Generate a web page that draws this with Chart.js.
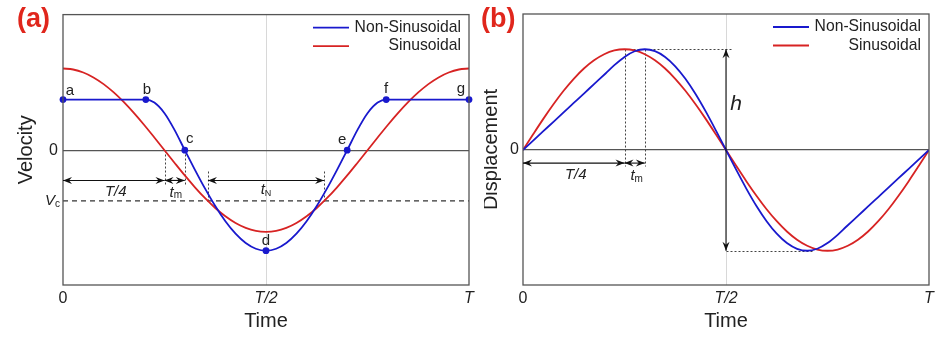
<!DOCTYPE html>
<html>
<head>
<meta charset="utf-8">
<script src="https://cdn.jsdelivr.net/npm/chart.js@4.4.0/dist/chart.umd.min.js"></script>
<style>
    body{margin:0;background:#fff;width:945px;height:342px;position:relative;overflow:hidden}
    #panel-a{position:absolute;left:0;top:0;width:481px;height:342px}
    #panel-b{position:absolute;left:481px;top:0;width:464px;height:342px}
</style>
</head>
<body>
<div id="panel-a"><canvas id="grafico-a"></canvas></div>
<div id="panel-b"><canvas id="grafico-b"></canvas></div>
<script>
// Tiempo como fraccion del periodo T
const tiempoSin = [0, 0.025, 0.05, 0.075, 0.1, 0.125, 0.15, 0.175, 0.2, 0.225,
                   0.25, 0.275, 0.3, 0.325, 0.35, 0.375, 0.4, 0.425, 0.45, 0.475,
                   0.5, 0.525, 0.55, 0.575, 0.6, 0.625, 0.65, 0.675, 0.7, 0.725,
                   0.75, 0.775, 0.8, 0.825, 0.85, 0.875, 0.9, 0.925, 0.95, 0.975, 1];
const tiempoNoSin = [0, 0.025, 0.05, 0.075, 0.1, 0.125, 0.15, 0.175, 0.204, 0.225,
                     0.25, 0.275, 0.3, 0.325, 0.35, 0.375, 0.4, 0.425, 0.45, 0.475,
                     0.5, 0.525, 0.55, 0.575, 0.6, 0.625, 0.65, 0.675, 0.7, 0.725,
                     0.75, 0.775, 0.796, 0.825, 0.85, 0.875, 0.9, 0.925, 0.95, 0.975, 1];

// (a) Velocidad
const velocidadSin = [1, 0.988, 0.951, 0.891, 0.809, 0.707, 0.588, 0.454, 0.309, 0.156,
                      0, -0.156, -0.309, -0.454, -0.588, -0.707, -0.809, -0.891, -0.951, -0.988,
                      -1, -0.988, -0.951, -0.891, -0.809, -0.707, -0.588, -0.454, -0.309, -0.156,
                      0, 0.156, 0.309, 0.454, 0.588, 0.707, 0.809, 0.891, 0.951, 0.988, 1];
const velocidadNoSin = [0.62, 0.62, 0.62, 0.62, 0.62, 0.62, 0.62, 0.62, 0.62, 0.583,
                        0.453, 0.246, 0, -0.24, -0.471, -0.684, -0.87, -1.022, -1.136, -1.206,
                        -1.23, -1.206, -1.136, -1.022, -0.87, -0.684, -0.471, -0.24, 0, 0.246,
                        0.453, 0.583, 0.62, 0.62, 0.62, 0.62, 0.62, 0.62, 0.62, 0.62, 0.62];

// (b) Desplazamiento
const desplazamientoSin = [0, 0.156, 0.309, 0.454, 0.588, 0.707, 0.809, 0.891, 0.951, 0.988,
                           1, 0.988, 0.951, 0.891, 0.809, 0.707, 0.588, 0.454, 0.309, 0.156,
                           0, -0.156, -0.309, -0.454, -0.588, -0.707, -0.809, -0.891, -0.951, -0.988,
                           -1, -0.988, -0.951, -0.891, -0.809, -0.707, -0.588, -0.454, -0.309, -0.156, 0];
const desplazamientoNoSin = [0, 0.093, 0.187, 0.28, 0.374, 0.467, 0.56, 0.654, 0.762, 0.842,
                             0.924, 0.98, 1, 0.981, 0.924, 0.831, 0.707, 0.556, 0.383, 0.195,
                             0, -0.195, -0.383, -0.556, -0.707, -0.831, -0.924, -0.981, -1, -0.98,
                             -0.924, -0.842, -0.762, -0.654, -0.56, -0.467, -0.374, -0.28, -0.187, -0.093, 0];

// Puntos marcados en la curva no sinusoidal de velocidad
const puntosTiempo = [0, 0.204, 0.3, 0.5, 0.7, 0.796, 1];
const puntosVelocidad = [0.62, 0.62, 0, -1.23, 0, 0.62, 0.62];
const puntosNombre = ["a", "b", "c", "d", "e", "f", "g"];

// Ticks
const ticksX = [0, 0.5, 1];
const etiquetasX = ["0", "T/2", "T"];
const series = ["Non-Sinusoidal", "Sinusoidal"];
const Vc = -0.62;

const AZUL = "rgb(25, 25, 205)";
const ROJO = "rgb(215, 35, 35)";
const FUENTE = 'Arial, "Liberation Sans", sans-serif';
Chart.defaults.font.family = FUENTE;

function aPuntos(tiempos, valores){
    return tiempos.map((t, i) => ({x: t, y: valores[i]}));
}

//Texto con partes de distinto tamaño (subindices, cursiva)
function textoCompuesto(ctx, x, y, partes, alinear){
    let ancho = 0;
    partes.forEach(p => {
        ctx.font = (p[2] ? "italic " : "") + p[1] + "px " + FUENTE;
        ancho += ctx.measureText(p[0]).width;
    });
    let x0 = alinear === "right" ? x - ancho : (alinear === "left" ? x : x - ancho / 2);
    ctx.textAlign = "left";
    ctx.textBaseline = "middle";
    partes.forEach(p => {
        ctx.font = (p[2] ? "italic " : "") + p[1] + "px " + FUENTE;
        ctx.fillText(p[0], x0, y + (p[3] || 0));
        x0 += ctx.measureText(p[0]).width;
    });
}

function puntaFlecha(ctx, x, y, ang){
    ctx.beginPath();
    ctx.moveTo(x, y);
    ctx.lineTo(x - 9 * Math.cos(ang) + 3.5 * Math.sin(ang), y - 9 * Math.sin(ang) - 3.5 * Math.cos(ang));
    ctx.lineTo(x - 6 * Math.cos(ang), y - 6 * Math.sin(ang));
    ctx.lineTo(x - 9 * Math.cos(ang) - 3.5 * Math.sin(ang), y - 9 * Math.sin(ang) + 3.5 * Math.cos(ang));
    ctx.closePath();
    ctx.fill();
}

const notas = {
    id: "notas",
    beforeDraw(chart, args, op){
        //Recorte del borde izquierdo (titulo cortado en el original)
        const ctx = chart.ctx;
        ctx.save();
        ctx.beginPath();
        ctx.rect(op.recorte || 0, 0, chart.width, chart.height);
        ctx.clip();
    },
    beforeDatasetsDraw(chart, args, op){
        const {ctx, scales: {x, y}} = chart;
        const px = v => x.getPixelForValue(v), py = v => y.getPixelForValue(v);
        ctx.save();
        //Linea discontinua Vc
        (op.discontinuas || []).forEach(l => {
            ctx.setLineDash([5, 4]);
            ctx.strokeStyle = "#333";
            ctx.lineWidth = 1.1;
            ctx.beginPath();
            ctx.moveTo(px(l[0]), py(l[1]));
            ctx.lineTo(px(l[2]), py(l[3]));
            ctx.stroke();
        });
        //Lineas punteadas
        (op.punteadas || []).forEach(l => {
            ctx.setLineDash([2, 2]);
            ctx.strokeStyle = "#444";
            ctx.lineWidth = 1;
            ctx.beginPath();
            ctx.moveTo(Math.round(px(l[0])) + 0.5, Math.round(py(l[1])) + 0.5);
            ctx.lineTo(Math.round(px(l[2])) + 0.5, Math.round(py(l[3])) + 0.5);
            ctx.stroke();
        });
        ctx.restore();
    },
    afterDatasetsDraw(chart, args, op){
        const {ctx, chartArea: ca, scales: {x, y}} = chart;
        const px = v => x.getPixelForValue(v), py = v => y.getPixelForValue(v);
        ctx.save();
        //Marco
        ctx.strokeStyle = "#555";
        ctx.lineWidth = 1.3;
        ctx.strokeRect(ca.left, ca.top, ca.width, ca.height);

        //Flechas dobles
        ctx.strokeStyle = "#111";
        ctx.fillStyle = "#111";
        ctx.lineWidth = 1.1;
        (op.flechas || []).forEach(f => {
            const x1 = px(f[0]), y1 = py(f[1]), x2 = px(f[2]), y2 = py(f[3]);
            const ang = Math.atan2(y2 - y1, x2 - x1);
            ctx.beginPath();
            ctx.moveTo(x1, y1);
            ctx.lineTo(x2, y2);
            ctx.stroke();
            puntaFlecha(ctx, x2, y2, ang);
            puntaFlecha(ctx, x1, y1, ang + Math.PI);
        });

        //Textos
        ctx.fillStyle = "#222";
        (op.textos || []).forEach(tx => {
            textoCompuesto(ctx, px(tx.x) + (tx.dx || 0), py(tx.y), tx.partes, tx.alinear);
        });

        //Nombres de los puntos
        if(op.nombres){
            ctx.font = "15px " + FUENTE;
            ctx.textAlign = "center";
            ctx.textBaseline = "middle";
            puntosNombre.forEach((n, i) => {
                const d = op.nombres[i];
                ctx.fillText(n, px(puntosTiempo[i]) + d[0], py(puntosVelocidad[i]) + d[1]);
            });
        }

        //Leyenda
        const colores = [AZUL, ROJO];
        series.forEach((s, i) => {
            const yy = ca.top + 13 + i * 18.5;
            ctx.strokeStyle = colores[i];
            ctx.lineWidth = 1.8;
            ctx.beginPath();
            ctx.moveTo(ca.right - 156, yy);
            ctx.lineTo(ca.right - 120, yy);
            ctx.stroke();
            ctx.fillStyle = "#222";
            ctx.font = "15.7px " + FUENTE;
            ctx.textAlign = "right";
            ctx.textBaseline = "middle";
            ctx.fillText(s, ca.right - 8, yy);
        });
        ctx.restore();
    },
    afterDraw(chart, args, op){
        const ctx = chart.ctx;
        ctx.restore();
        //Etiqueta del panel
        ctx.save();
        ctx.fillStyle = "#e0261c";
        ctx.font = "bold 27px " + FUENTE;
        ctx.textAlign = "left";
        ctx.textBaseline = "middle";
        ctx.fillText(op.panel, op.panelX, 20);
        ctx.restore();
    }
};

function crearPanel(id, cfg){
    const datasets = [
        {
            label: series[0],
            data: aPuntos(tiempoNoSin, cfg.noSin),
            borderColor: AZUL,
            borderWidth: 1.8,
            pointRadius: 0,
            cubicInterpolationMode: "monotone"
        },
        {
            label: series[1],
            data: aPuntos(tiempoSin, cfg.sin),
            borderColor: ROJO,
            borderWidth: 1.8,
            pointRadius: 0,
            cubicInterpolationMode: "monotone"
        }
    ];
    if(cfg.puntos){
        datasets.push({
            type: "scatter",
            label: "puntos",
            data: aPuntos(puntosTiempo, puntosVelocidad),
            backgroundColor: AZUL,
            borderWidth: 0,
            pointRadius: 3.4,
            clip: false
        });
    }
    return new Chart(document.getElementById(id), {
        type: "line",
        data: {datasets: datasets},
        options: {
            responsive: true,
            maintainAspectRatio: false,
            animation: false,
            layout: {padding: {top: 14, right: cfg.derecha, left: 0, bottom: 0}},
            plugins: {
                legend: {display: false},
                tooltip: {enabled: false},
                notas: cfg.notas
            },
            scales: {
                x: {
                    type: "linear",
                    min: 0,
                    max: 1,
                    afterFit: s => { s.height = 57; },
                    afterBuildTicks: s => { s.ticks = ticksX.map(v => ({value: v})); },
                    ticks: {
                        autoSkip: false,
                        maxRotation: 0,
                        padding: 4,
                        color: "#222",
                        font: c => ({size: 16, style: c.index > 0 ? "italic" : "normal"}),
                        callback: (v, i) => etiquetasX[i]
                    },
                    grid: {
                        drawTicks: false,
                        color: c => (c.tick && c.tick.value === 0.5) ? "#d8d8d8" : "rgba(0,0,0,0)"
                    },
                    border: {display: false},
                    title: {display: true, text: "Time", color: "#222", font: {size: 20}, padding: {top: 0, bottom: 9}}
                },
                y: {
                    min: cfg.ymin,
                    max: cfg.ymax,
                    afterFit: s => { s.width = cfg.ancho; },
                    afterBuildTicks: s => { s.ticks = [{value: 0}]; },
                    ticks: {
                        padding: cfg.tickPad,
                        color: "#222",
                        font: {size: 16},
                        callback: () => "0"
                    },
                    grid: {
                        drawTicks: false,
                        lineWidth: 1.3,
                        color: c => (c.tick && c.tick.value === 0) ? "#555" : "rgba(0,0,0,0)"
                    },
                    border: {display: false},
                    title: {display: true, text: cfg.titulo, color: "#222", font: {size: 20}, padding: {top: cfg.tituloPad, bottom: 0}}
                }
            }
        },
        plugins: [notas]
    });
}

const tm = [["t", 15, true], ["m", 10, false, 3]];

crearPanel("grafico-a", {
    sin: velocidadSin,
    noSin: velocidadNoSin,
    puntos: true,
    ymin: -1.65,
    ymax: 1.66,
    ancho: 63,
    derecha: 12,
    tickPad: 5,
    titulo: "Velocity",
    tituloPad: 14,
    notas: {
        panel: "(a)",
        panelX: 17,
        discontinuas: [[0, Vc, 1, Vc]],
        punteadas: [[0.25, 0, 0.25, -0.44], [0.3, 0, 0.3, -0.44],
                    [0.357, -0.26, 0.357, Vc], [0.643, -0.26, 0.643, Vc]],
        flechas: [[0, -0.37, 0.25, -0.37], [0.25, -0.37, 0.3, -0.37], [0.357, -0.37, 0.643, -0.37]],
        textos: [
            {x: 0.13, y: -0.51, partes: [["T/4", 15, true]]},
            {x: 0.278, y: -0.52, partes: tm},
            {x: 0.5, y: -0.49, partes: [["t", 15, true], ["N", 9, false, 3]]},
            {x: 0, y: Vc, dx: -3, alinear: "right", partes: [["V", 15, true], ["c", 10, false, 3]]}
        ],
        nombres: [[7, -9], [1, -10], [5, -11], [0, -10], [-5, -10], [0, -11], [-8, -11]]
    }
});

crearPanel("grafico-b", {
    sin: desplazamientoSin,
    noSin: desplazamientoNoSin,
    puntos: false,
    ymin: -1.34,
    ymax: 1.35,
    ancho: 42,
    derecha: 16,
    tickPad: 4,
    titulo: "Displacement",
    tituloPad: -2,
    notas: {
        panel: "(b)",
        panelX: 0,
        recorte: 3,
        punteadas: [[0.25, 1, 0.25, -0.16], [0.3, 1, 0.3, -0.16],
                    [0.25, 1, 0.517, 1], [0.5, -1, 0.712, -1]],
        flechas: [[0, -0.13, 0.25, -0.13], [0.25, -0.13, 0.3, -0.13], [0.5, 1, 0.5, -1]],
        textos: [
            {x: 0.13, y: -0.25, partes: [["T/4", 15, true]]},
            {x: 0.28, y: -0.26, partes: tm},
            {x: 0.525, y: 0.46, partes: [["h", 21, true]]}
        ]
    }
});
</script>
</body>
</html>
